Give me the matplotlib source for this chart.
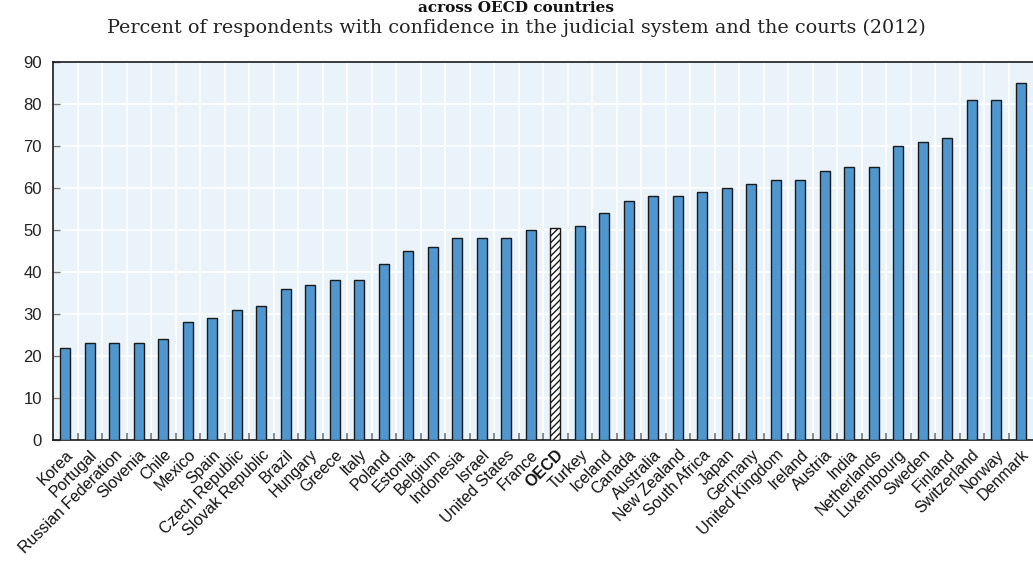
import matplotlib
matplotlib.use("Agg")
import matplotlib.pyplot as plt
from matplotlib import font_manager

countries = ["Korea", "Portugal", "Russian Federation", "Slovenia", "Chile", "Mexico", "Spain",
             "Czech Republic", "Slovak Republic", "Brazil", "Hungary", "Greece", "Italy", "Poland",
             "Estonia", "Belgium", "Indonesia", "Israel", "United States", "France", "OECD",
             "Turkey", "Iceland", "Canada", "Australia", "New Zealand", "South Africa", "Japan",
             "Germany", "United Kingdom", "Ireland", "Austria", "India", "Netherlands",
             "Luxembourg", "Sweden", "Finland", "Switzerland", "Norway", "Denmark"]
values = [22, 23, 23, 23, 24, 28, 29, 31, 32, 36, 37, 38, 38, 42, 45, 46, 48, 48, 48, 50, 50.5,
          51, 54, 57, 58, 58, 59, 60, 61, 62, 62, 64, 65, 65, 70, 71, 72, 81, 81, 85]
yticks = [0, 10, 20, 30, 40, 50, 60, 70, 80, 90]

title = "across OECD countries"
subtitle = "Percent of respondents with confidence in the judicial system and the courts (2012)"

avail = {f.name for f in font_manager.fontManager.ttflist}
narrow = "Liberation Sans Narrow" if "Liberation Sans Narrow" in avail else "Liberation Sans"

fig = plt.figure(figsize=(10.33, 5.64), dpi=100)
ax = fig.add_axes([53/1033, 1 - 440/564, 980/1033, 378/564])
ax.set_facecolor("#EAF2FA")

x = list(range(len(countries)))
colors = ["white" if c == "OECD" else "#4F97CE" for c in countries]
bars = ax.bar(x, values, width=0.42, color=colors, edgecolor="#1a1a1a", linewidth=1.0, zorder=3)
for b, c in zip(bars, countries):
    if c == "OECD":
        b.set_hatch("/////")

ax.set_xlim(-0.5, len(countries) - 0.5)
ax.set_ylim(0, 90)
ax.set_yticks(yticks)
ax.set_yticklabels([str(v) for v in yticks], fontsize=12, family=narrow, color="#222222")

bounds = [i + 0.5 for i in range(len(countries) - 1)]
ax.set_xticks(bounds, minor=True)
ax.set_xticks(x)
ax.set_xticklabels(countries, rotation=45, ha="right", rotation_mode="anchor",
                   fontsize=11.5, family=narrow, color="#111111")
for lab in ax.get_xticklabels():
    if lab.get_text() == "OECD":
        lab.set_fontweight("bold")
ax.tick_params(axis="x", which="major", length=0, pad=5)
ax.tick_params(axis="x", which="minor", direction="in", length=5, color="#777777", width=1.2)
ax.tick_params(axis="y", direction="in", length=5, color="#777777", width=1.0, pad=8)

for b in bounds:
    ax.axvline(b, color="white", linewidth=1.2, zorder=1)
for t in yticks[1:-1]:
    ax.axhline(t, color="white", linewidth=1.2, zorder=1)

for s in ax.spines.values():
    s.set_color("#1a1a1a")
    s.set_linewidth(1.2)
ax.spines["right"].set_visible(False)

fig.text(0.5, 1.0 - 1/564, title, ha="center", va="top", fontsize=11,
         fontweight="bold", family="DejaVu Serif", color="#111111")
fig.text(0.5, 1 - 28/564, subtitle, ha="center", va="center", fontsize=13.8,
         family="DejaVu Serif", color="#222222")

fig.savefig("out.png", dpi=100)
